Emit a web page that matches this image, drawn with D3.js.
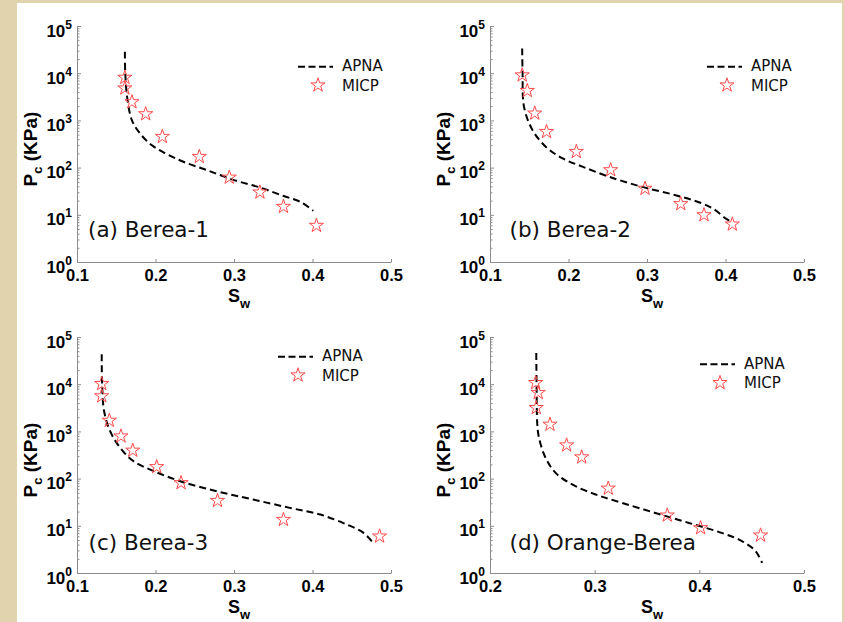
<!DOCTYPE html>
<html>
<head>
<meta charset="utf-8">
<script src="https://cdn.jsdelivr.net/npm/d3@7"></script>
<style>
  body { margin: 0; background: #e0d3ad; }
  svg { display: block; }
</style>
</head>
<body>
<div id="chart"></div>
<script>
// panel titles and legend entries
const panelLabels = ['(a) Berea-1', '(b) Berea-2', '(c) Berea-3', '(d) Orange-Berea'];
const seriesNames = ['APNA', 'MICP'];

// tick values
const xTicksBerea = [0.1, 0.2, 0.3, 0.4, 0.5];
const xTicksOrange = [0.2, 0.3, 0.4, 0.5];
const yExponents = [0, 1, 2, 3, 4, 5];

// (a) Berea-1
const micpSwA = [0.161, 0.161, 0.170, 0.1875, 0.2087, 0.2558, 0.294, 0.333, 0.363, 0.405];
const micpPcA = [8100, 4800, 2450, 1365, 452, 170, 62, 30, 14.9, 5.9];
const apnaSwA = [0.161, 0.1615, 0.164, 0.170, 0.180, 0.195, 0.214, 0.2355, 0.265, 0.299, 0.333, 0.363, 0.384, 0.401];
const apnaPcA = [28500, 10000, 3000, 1000, 535, 300, 195, 133, 89, 55, 38, 25, 19, 12.2];

// (b) Berea-2
const micpSwB = [0.141, 0.1475, 0.157, 0.172, 0.210, 0.2537, 0.2975, 0.343, 0.3726, 0.4087];
const micpPcB = [9100, 4250, 1410, 575, 217, 89, 36, 17, 9.9, 6.3];
const apnaSwB = [0.141, 0.1415, 0.1433, 0.154, 0.171, 0.192, 0.2176, 0.2516, 0.294, 0.3365, 0.370, 0.387, 0.400, 0.405];
const apnaPcB = [33500, 10000, 1950, 630, 277, 158, 105, 64, 39, 26, 17.5, 12.6, 8.4, 7.5];

// (c) Berea-3
const micpSwC = [0.1315, 0.1315, 0.1412, 0.156, 0.171, 0.2015, 0.2326, 0.279, 0.363, 0.4855];
const micpPcC = [10200, 5600, 1700, 790, 395, 177, 81, 34, 13.5, 6.0];
const apnaSwC = [0.1315, 0.132, 0.1345, 0.1422, 0.155, 0.172, 0.1977, 0.2316, 0.278, 0.3245, 0.371, 0.41, 0.444, 0.465, 0.4756];
const apnaPcC = [43000, 10000, 2700, 1010, 450, 234, 144, 88, 54, 36, 24, 17.3, 10.6, 7.1, 4.7];

// (d) Orange-Berea
const micpSwD = [0.2436, 0.2461, 0.2442, 0.2573, 0.2732, 0.2876, 0.313, 0.3694, 0.4012, 0.4585];
const micpPcD = [10700, 6600, 3160, 1400, 510, 285, 62, 16.7, 9.0, 6.3];
const apnaSwD = [0.2442, 0.2445, 0.2452, 0.2468, 0.2531, 0.2627, 0.2786, 0.301, 0.3264, 0.358, 0.390, 0.422, 0.441, 0.4538, 0.460];
const apnaPcD = [46000, 10000, 1400, 730, 275, 132, 75, 46, 30.5, 18.7, 11.5, 7.0, 4.7, 2.9, 1.63];

const width = 844;
const height = 622;
const pw = 314;
const ph = 236;
const axisColor = '#8c8c8c';
const starColor = '#ff4a4a';
const tickFont = '"Liberation Sans", Arial, sans-serif';
const noteFont = '"DejaVu Sans", Verdana, sans-serif';

const svg = d3.select('#chart')
    .append('svg')
    .attr('width', width)
    .attr('height', height);

// white page on the beige frame
svg.append('rect')
    .attr('x', 17).attr('y', 3)
    .attr('width', 825).attr('height', 619)
    .attr('fill', '#fff');

const panels = [
    { label: panelLabels[0], left: 77, top: 26, xDomain: [0.1, 0.5], xTicks: xTicksBerea,
      micp: [micpSwA, micpPcA], apna: [apnaSwA, apnaPcA], legend: [221, 40.7], note: [11, 211] },
    { label: panelLabels[1], left: 490, top: 26, xDomain: [0.1, 0.5], xTicks: xTicksBerea,
      micp: [micpSwB, micpPcB], apna: [apnaSwB, apnaPcB], legend: [217, 40.7], note: [19.5, 211] },
    { label: panelLabels[2], left: 77, top: 337, xDomain: [0.1, 0.5], xTicks: xTicksBerea,
      micp: [micpSwC, micpPcC], apna: [apnaSwC, apnaPcC], legend: [201, 19.7], note: [11.5, 213] },
    { label: panelLabels[3], left: 490, top: 337, xDomain: [0.2, 0.5], xTicks: xTicksOrange,
      micp: [micpSwD, micpPcD], apna: [apnaSwD, apnaPcD], legend: [210, 27.3], note: [19.5, 213] },
];

const star = d3.symbol().type(d3.symbolStar).size(62);

function styleAxis(g) {
    g.select('.domain').attr('stroke', axisColor);
    g.selectAll('.tick line').attr('stroke', axisColor);
}

function drawPanel(p) {
    const g = svg.append('g').attr('transform', `translate(${p.left},${p.top})`);

    const x = d3.scaleLinear().domain(p.xDomain).range([0, pw]);
    const y = d3.scaleLog().domain([1, 1e5]).range([ph, 0]);

    // minor log ticks, inward
    const minor = [];
    yExponents.slice(0, -1).forEach(e => {
        for (let k = 2; k < 10; k++) minor.push(k * Math.pow(10, e));
    });
    g.append('g')
        .call(d3.axisLeft(y).tickValues(minor).tickSize(-2.5).tickFormat(''))
        .call(styleAxis);

    // major y ticks with 10^n labels
    const yAxis = g.append('g')
        .call(d3.axisLeft(y)
            .tickValues(yExponents.map(e => Math.pow(10, e)))
            .tickSizeInner(-4).tickSizeOuter(0)
            .tickFormat(''))
        .call(styleAxis);
    yAxis.selectAll('.tick').each(function (d) {
        const t = d3.select(this).append('text')
            .attr('x', -5).attr('y', 10).attr('dy', 0)
            .attr('fill', '#000')
            .attr('text-anchor', 'end')
            .style('font', `bold 17px ${tickFont}`);
        t.append('tspan').text('10');
        t.append('tspan').attr('dy', -8).style('font-size', '12px').text(Math.round(Math.log10(d)));
    });

    // x axis
    g.append('g')
        .attr('transform', `translate(0,${ph})`)
        .call(d3.axisBottom(x)
            .tickValues(p.xTicks)
            .tickSizeInner(-3).tickSizeOuter(0)
            .tickPadding(0)
            .tickFormat(d3.format('.1f')))
        .call(styleAxis)
        .call(s => s.selectAll('.tick text')
            .attr('y', 19).attr('dy', 0)
            .attr('fill', '#000')
            .style('font', `bold 16.5px ${tickFont}`));

    // axis titles
    const xl = g.append('text')
        .attr('x', pw / 2 + 5).attr('y', ph + 40)
        .attr('text-anchor', 'middle')
        .style('font', `bold 18px ${tickFont}`);
    xl.append('tspan').text('S');
    xl.append('tspan').attr('dy', 6).style('font-size', '13px').text('w');

    const yl = g.append('text')
        .attr('transform', `translate(-40,${ph / 2 + 5}) rotate(-90)`)
        .attr('text-anchor', 'middle')
        .style('font', `bold 19px ${tickFont}`);
    yl.append('tspan').text('P');
    yl.append('tspan').attr('dy', 5).style('font-size', '13px').text('c');
    yl.append('tspan').attr('dy', -5).text(' (KPa)');

    // APNA dashed curve
    const apna = p.apna[0].map((s, i) => [s, p.apna[1][i]]);
    const line = d3.line()
        .x(d => x(d[0]))
        .y(d => y(d[1]))
        .curve(d3.curveCatmullRom.alpha(0.5));
    g.append('path')
        .datum(apna)
        .attr('d', line)
        .attr('fill', 'none')
        .attr('stroke', '#000')
        .attr('stroke-width', 2)
        .attr('stroke-dasharray', '7,4');

    // MICP stars
    const micp = p.micp[0].map((s, i) => [s, p.micp[1][i]]);
    g.append('g')
        .selectAll('path')
        .data(micp)
        .join('path')
        .attr('transform', d => `translate(${x(d[0])},${y(d[1])})`)
        .attr('d', star)
        .attr('fill', 'none')
        .attr('stroke', starColor)
        .attr('stroke-width', 1);

    // legend
    const [lx, ly] = p.legend;
    const lg = g.append('g').attr('transform', `translate(${lx},${ly})`);
    lg.append('line')
        .attr('x1', 0).attr('x2', 35)
        .attr('stroke', '#000').attr('stroke-width', 2)
        .attr('stroke-dasharray', '7,3.5');
    lg.append('path')
        .attr('transform', 'translate(20,18.5)')
        .attr('d', star)
        .attr('fill', 'none')
        .attr('stroke', starColor);
    lg.selectAll('text')
        .data(seriesNames)
        .join('text')
        .attr('x', 44)
        .attr('y', (d, i) => 4.5 + i * 19.5)
        .style('font', `15px ${noteFont}`)
        .attr('fill', '#111')
        .text(d => d);

    // panel annotation
    g.append('text')
        .attr('x', p.note[0]).attr('y', p.note[1])
        .style('font', `21.5px ${noteFont}`)
        .attr('fill', '#111')
        .text(p.label);
}

panels.forEach(drawPanel);
</script>
</body>
</html>
